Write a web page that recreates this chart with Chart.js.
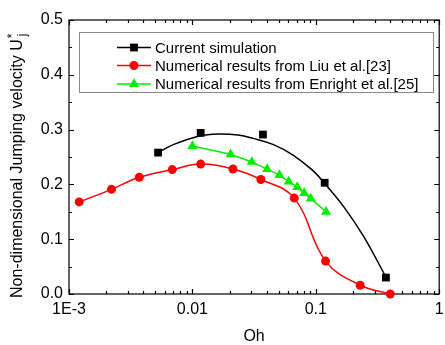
<!DOCTYPE html>
<html>
<head>
<meta charset="utf-8">
<script src="https://cdn.jsdelivr.net/npm/chart.js@4.4.0/dist/chart.umd.min.js"></script>
<style>
	html, body { margin:0; padding:0; background:#fff; }
	#chart-box { width:445px; height:345px; }
</style>
</head>
<body>
<div id="chart-box"><canvas id="myChart" width="445" height="345"></canvas></div>
<script>
	// Current simulation (squares)
	let ohSim = [0.00527, 0.01167, 0.0373, 0.118, 0.370];
	let uSim = [0.258, 0.294, 0.291, 0.203, 0.030];

	// fitted curve of the simulation
	let ohFit = [0.00527, 0.00708, 0.01123, 0.01626, 0.0235, 0.031, 0.0449, 0.0649, 0.0939, 0.1166, 0.1687, 0.244, 0.370];
	let uFit = [0.258, 0.273, 0.288, 0.292, 0.290, 0.284, 0.273, 0.254, 0.226, 0.203, 0.159, 0.105, 0.031];

	// Liu et al. [23]
	let ohLiu = [0.00121, 0.00221, 0.00371, 0.00687, 0.01167, 0.0213, 0.0359, 0.0669, 0.120, 0.229, 0.401];
	let uLiu = [0.168, 0.191, 0.213, 0.227, 0.237, 0.228, 0.209, 0.175, 0.060, 0.016, 0.000];

	// Enright et al. [25]
	let ohEnr = [0.0100, 0.0204, 0.0303, 0.0404, 0.0507, 0.0603, 0.0707, 0.0805, 0.091, 0.121];
	let uEnr = [0.270, 0.255, 0.241, 0.228, 0.217, 0.205, 0.195, 0.184, 0.174, 0.150];

	// Axis ticks
	let xTickVals = [0.001, 0.01, 0.1, 1];
	let xTickLabels = ["1E-3", "0.01", "0.1", "1"];
	let yTickVals = [0, 0.1, 0.2, 0.3, 0.4, 0.5];

	let legendLabels = ["Current simulation", "Numerical results from Liu et al.[23]", "Numerical results from Enright et al.[25]"];

	let font = "'Liberation Sans', Arial, sans-serif";
	Chart.defaults.font.family = font;
	Chart.defaults.font.size = 16;
	Chart.defaults.color = '#000';

	function pts(xs, ys) {
		return xs.map((x, i) => ({ x:x, y:ys[i] }));
	}

	// frame + inward ticks on all four sides
	let framePlugin = {
		id: 'frame',
		beforeDatasetsDraw(chart) {
			let ctx = chart.ctx, a = chart.chartArea;
			let xs = chart.scales.x, ys = chart.scales.y;
			ctx.save();
			ctx.strokeStyle = '#000';
			ctx.lineWidth = 1.2;
			ctx.strokeRect(a.left, a.top, a.right - a.left, a.bottom - a.top);
			ctx.beginPath();
			for (let d = -3; d <= 0; d++) {
				for (let m = 1; m <= 9; m++) {
					let v = m * Math.pow(10, d);
					if (v > 1.0001) break;
					let px = Math.round(xs.getPixelForValue(v)) + 0.5;
					let len = m == 1 ? 5 : 3;
					ctx.moveTo(px, a.bottom); ctx.lineTo(px, a.bottom - len);
					ctx.moveTo(px, a.top); ctx.lineTo(px, a.top + len);
				}
			}
			for (let k = 0; k <= 10; k++) {
				let py = Math.round(ys.getPixelForValue(k * 0.05)) + 0.5;
				let len = k % 2 == 0 ? 5 : 3;
				ctx.moveTo(a.left, py); ctx.lineTo(a.left + len, py);
				ctx.moveTo(a.right, py); ctx.lineTo(a.right - len, py);
			}
			ctx.stroke();
			ctx.restore();
		},
		afterDraw(chart) {
			let ctx = chart.ctx, a = chart.chartArea;
			ctx.save();

			// legend box
			ctx.strokeStyle = '#8a8a8a';
			ctx.lineWidth = 1;
			ctx.strokeRect(79.5, 32.5, 354, 60);
			let rows = [47.5, 65.5, 84];
			let sets = [chart.data.datasets[0], chart.data.datasets[2], chart.data.datasets[3]];
			ctx.font = "15px " + font;
			ctx.textBaseline = 'middle';
			sets.forEach((ds, i) => {
				let y = rows[i];
				ctx.strokeStyle = ds.legendColor;
				ctx.lineWidth = 1.5;
				ctx.beginPath();
				ctx.moveTo(117, y); ctx.lineTo(151, y);
				ctx.stroke();
				ctx.fillStyle = ds.pointBackgroundColor;
				ctx.strokeStyle = ds.pointBorderColor;
				Chart.helpers.drawPoint(ctx, { pointStyle:ds.pointStyle, radius:ds.pointRadius, rotation:0, borderWidth:0 }, 134, y);
				ctx.fillStyle = '#000';
				ctx.textAlign = 'left';
				ctx.fillText(legendLabels[i], 155, y + 1);
			});

			// x title
			ctx.font = "16px " + font;
			ctx.textAlign = 'center';
			ctx.textBaseline = 'middle';
			ctx.fillText("Oh", (a.left + a.right) / 2, 337);

			// y title with U*_j
			let main = "Non-dimensional Jumping velocity U";
			ctx.font = "16px " + font;
			let w = ctx.measureText(main).width;
			ctx.translate(22, 0);
			ctx.rotate(-Math.PI / 2);
			ctx.textAlign = 'left';
			ctx.textBaseline = 'alphabetic';
			let start = -298;
			ctx.fillText(main, start, 0);
			ctx.font = "12px " + font;
			ctx.fillText("*", start + w + 1, -6);
			ctx.fillText("j", start + w + 3, 4);
			ctx.restore();
		}
	};

	let ctx = document.getElementById('myChart').getContext('2d');
	let chart = new Chart(ctx, {
		type: 'scatter',
		data: {
			datasets: [{
				label: 'Current simulation',
				data: pts(ohSim, uSim),
				showLine: false,
				pointStyle: 'rect',
				pointRadius: 5.5,
				pointBackgroundColor: '#000',
				pointBorderColor: '#000',
				pointBorderWidth: 0,
				legendColor: '#000',
				clip: false,
				order: 0
			}, {
				label: 'fit',
				data: pts(ohFit, uFit),
				showLine: true,
				borderColor: '#000',
				borderWidth: 1.5,
				tension: 0.4,
				pointRadius: 0,
				clip: false,
				order: 3
			}, {
				label: 'Liu',
				data: pts(ohLiu, uLiu),
				showLine: true,
				borderColor: '#ff0000',
				borderWidth: 1.5,
				tension: 0.4,
				pointStyle: 'circle',
				pointRadius: 4.5,
				pointBackgroundColor: '#ff0000',
				pointBorderColor: '#ff0000',
				pointBorderWidth: 0,
				legendColor: '#ff0000',
				clip: false,
				order: 2
			}, {
				label: 'Enright',
				data: pts(ohEnr, uEnr),
				showLine: true,
				borderColor: '#00ee00',
				borderWidth: 1.5,
				tension: 0,
				pointStyle: 'triangle',
				pointRadius: 5.8,
				pointBackgroundColor: '#00ee00',
				pointBorderColor: '#00ee00',
				pointBorderWidth: 0,
				legendColor: '#00ee00',
				clip: false,
				order: 1
			}]
		},
		options: {
			responsive: false,
			animation: false,
			layout: { padding: { top:20, right:2, left:0, bottom:0 } },
			plugins: { legend: { display:false }, tooltip: { enabled:false } },
			scales: {
				x: {
					type: 'logarithmic',
					min: 0.001,
					max: 1,
					grid: { display:false, drawTicks:false },
					border: { display:false },
					ticks: { padding:6, maxRotation:0, autoSkip:false, callback: (v, i) => xTickLabels[i] },
					afterBuildTicks: s => { s.ticks = xTickVals.map(v => ({ value:v })); },
					afterFit: s => { s.height = 51; s.paddingLeft = 0; s.paddingRight = 0; }
				},
				y: {
					min: 0,
					max: 0.5,
					grid: { display:false, drawTicks:false },
					border: { display:false },
					ticks: { padding:6, callback: v => v.toFixed(1) },
					afterBuildTicks: s => { s.ticks = yTickVals.map(v => ({ value:v })); },
					afterFit: s => { s.width = 69; s.paddingTop = 0; s.paddingBottom = 0; }
				}
			}
		},
		plugins: [framePlugin]
	});
</script>
</body>
</html>
